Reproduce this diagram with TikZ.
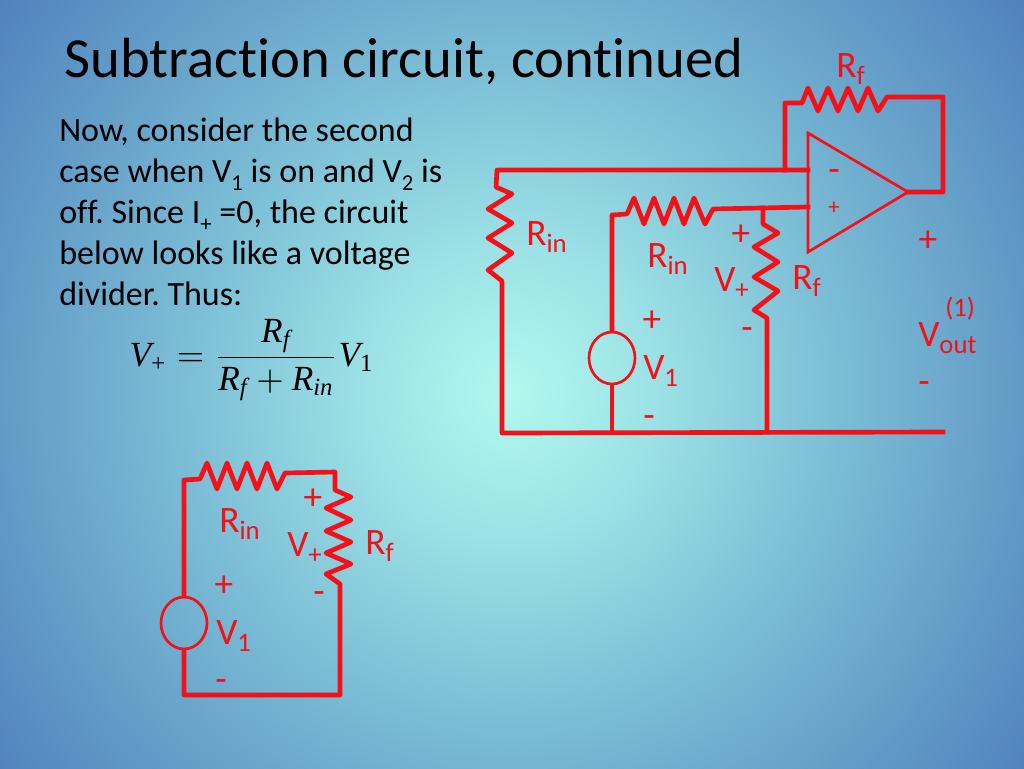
\documentclass[tikz,border=0pt]{standalone}
\usepackage{fontspec}
\usepackage{graphicx}
\usepackage{amsmath}
\setmainfont[Ligatures=CommonOff]{Carlito}
\newfontfamily\eqfont{Liberation Serif}
\usetikzlibrary{shapes.geometric}
\definecolor{bgin}{RGB}{178,248,238}
\definecolor{bga}{RGB}{156,226,230}
\definecolor{bgb}{RGB}{124,190,214}
\definecolor{bgc}{RGB}{100,158,200}
\definecolor{bgout}{RGB}{79,129,189}
\definecolor{cktred}{RGB}{244,16,22}
\pgfdeclareradialshading{bgshade}{\pgfpointorigin}{color(0bp)=(bgin); color(5.5bp)=(bga); color(12.5bp)=(bgb); color(19bp)=(bgc); color(25bp)=(bgout); color(50bp)=(bgout)}
\newcommand{\sbs}[1]{\raisebox{-.2em}{\fontsize{20}{20}\selectfont #1}}
\newcommand{\txs}[1]{\raisebox{-.22em}{\fontsize{17}{17}\selectfont #1}}
\newcommand{\ei}[1]{\text{\eqfont\itshape #1}}
\newcommand{\er}[1]{\text{\eqfont #1}}
\tikzset{
  wire/.style={draw=cktred,line width=3.5pt,line join=round,line cap=rect},
  thinwire/.style={draw=cktred,line width=2pt,line join=miter},
  lab/.style={anchor=base west,inner sep=0pt,text=cktred,font=\fontsize{28}{28}\selectfont},
  sign/.style={anchor=base,inner sep=0pt,text=cktred,font=\fontsize{28}{28}\selectfont},
  smallsign/.style={anchor=base,inner sep=0pt,text=cktred,font=\fontsize{17}{17}\selectfont},
  source/.style={ellipse,draw=cktred,line width=2pt,minimum width=46*0.75pt,minimum height=52*0.75pt,inner sep=0pt}
}
\begin{document}
\begin{tikzpicture}[x=0.75pt,y=-0.75pt]
\useasboundingbox (0,0) rectangle (1024,768);
\begin{scope}
\clip (0,0) rectangle (1024,768);
\shade[shading=bgshade] (510,392) circle (650);
\end{scope}
% text
\node[anchor=base west,inner sep=0pt,font=\fontsize{42.5}{42.5}\selectfont] (title) at (64,77) {Subtraction circuit, continued};
\node[anchor=north west,inner sep=0pt,align=left,font=\fontsize{25.5}{30.7}\selectfont\frenchspacing] (body) at (59,118) {Now, consider the second\\case when V\txs{1} is on and V\txs{2} is\\off. Since I\txs{+} =0, the circuit\\below looks like a voltage\\divider. Thus:};
\node[inner sep=0pt] (eqn) at (252,360) {\scalebox{2.65}{$\displaystyle \ei{V}_{\er{+}}=\frac{\ei{R}_{\ei{f}}}{\ei{R}_{\ei{f}}+\ei{R}_{\ei{in}}}\ei{V}_{\er{1}}$}};
% main circuit junctions
\coordinate (fbdrop) at (785,170);
\coordinate (fbtop) at (785,103);
\coordinate (fbr) at (943,97);
\coordinate (outr) at (943,192);
\coordinate (amin) at (808,170);
\coordinate (aplus) at (808,207);
\coordinate (aout) at (908,192);
\coordinate (atop) at (808,133);
\coordinate (abot) at (808,252);
\coordinate (lefttop) at (497,170);
\coordinate (leftbot) at (502,433);
\coordinate (gndr) at (943,432);
\coordinate (srctop) at (612,215);
\coordinate (srcgnd) at (612,433);
\coordinate (vpj) at (763,208);
\coordinate (rfgnd) at (767,432);
\node[source] (vone) at (612,358) {};
% op amp
\draw[thinwire] (atop) -- (aout) -- (abot) -- cycle;
% feedback
\draw[wire] (fbdrop) -- (fbtop) -- (802,103) -- (808,88) -- (818,111) -- (828,88) -- (838,111) -- (848,88) -- (858,111) -- (868,88) -- (878,111) -- (887,97) -- (fbr) -- (outr) -- (aout);
% inverting input and left Rin
\draw[wire] (amin) -- (lefttop) -- (496,187) -- (512,194) -- (488,209) -- (512,223) -- (488,238) -- (512,253) -- (488,270) -- (502,281) -- (leftbot) -- (gndr);
% source branch and Rin
\draw[wire] (vone.north) -- (srctop) -- (627,214) -- (634,198) -- (644,224) -- (654,198) -- (664,224) -- (674,198) -- (684,224) -- (694,198) -- (705,224) -- (713,209) -- (aplus);
\draw[wire] (vone.south) -- (srcgnd);
% Rf to ground
\draw[wire] (vpj) -- (763,224) -- (778,233) -- (754,247) -- (778,262) -- (754,277) -- (778,291) -- (754,310) -- (767,318) -- (rfgnd);
% main labels
\node[lab] (l1) at (836,77) {R\sbs{f}};
\node[lab] (l2) at (526,245) {R\sbs{in}};
\node[lab] (l3) at (647,267) {R\sbs{in}};
\node[sign] (l4) at (741,245) {+};
\node[lab] (l5) at (714,291) {V\sbs{+}};
\node[lab] (l6) at (792,289) {R\sbs{f}};
\node[sign] (l7) at (652,331) {+};
\node[lab] (l8) at (643,379) {V\sbs{1}};
\node[sign] (l9) at (649,427) {-};
\node[sign] (l10) at (747,339) {-};
\node[sign] (l11) at (928,251) {+};
\node[lab] (l12) at (918,346) {V\sbs{out}};
\node[lab,font=\fontsize{20}{20}\selectfont] (l13) at (945,316) {(1)};
\node[sign] (l14) at (924,393) {-};
\node[sign] (l15) at (834,181) {-};
\node[smallsign] (l16) at (834,214) {+};
% lower circuit
\coordinate (bbl) at (184,695);
\coordinate (bbr) at (340,695);
\coordinate (btl) at (184,480);
\coordinate (btr) at (335,472);
\node[source] (vtwo) at (184,623) {};
\draw[wire] (vtwo.north) -- (btl) -- (200,479) -- (207,463) -- (217,489) -- (227,463) -- (237,489) -- (247,463) -- (257,489) -- (267,463) -- (277,489) -- (285,473) -- (btr) -- (335,490) -- (351,497) -- (326,508) -- (351,520) -- (326,531) -- (351,542) -- (326,553) -- (351,564) -- (326,574) -- (340,584) -- (bbr) -- (bbl) -- (vtwo.south);
\node[lab] (m1) at (219,532) {R\sbs{in}};
\node[sign] (m2) at (313,509) {+};
\node[lab] (m3) at (287,556) {V\sbs{+}};
\node[lab] (m4) at (365,554) {R\sbs{f}};
\node[sign] (m5) at (224,596) {+};
\node[lab] (m6) at (216,644) {V\sbs{1}};
\node[sign] (m7) at (319,603) {-};
\node[sign] (m8) at (221,691) {-};
\end{tikzpicture}
\end{document}
